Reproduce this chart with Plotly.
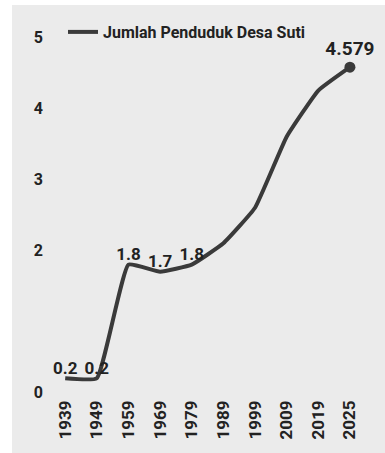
import plotly.graph_objects as go

# Population of Desa Suti (thousands of people)
years = ["1939", "1949", "1959", "1969", "1979", "1989", "1999", "2009", "2019", "2025"]
population = [0.2, 0.2, 1.8, 1.7, 1.8, 2.1, 2.6, 3.6, 4.25, 4.579]
labeled_years = ["1939", "1949", "1959", "1969", "1979", "2025"]
y_tick_values = [0, 2, 3, 4, 5]
y_tick_labels = ["0", "2", "3", "4", "5"]
series_name = "Jumlah Penduduk Desa Suti"

FONT = "Roboto, Lato, sans-serif"
INK = "#222222"
LINE = "#3a3a3a"
PANEL = "#ebebeb"

labels = [str(v) if y in labeled_years else "" for y, v in zip(years, population)]

fig = go.Figure()

fig.add_trace(go.Scatter(
    x=years, y=population,
    mode="lines+text",
    name=series_name,
    line=dict(color=LINE, width=4, shape="spline", smoothing=0.35),
    text=labels[:-1] + [""],
    textposition="top center",
    textfont=dict(family=FONT, size=17, color=INK, weight="bold"),
    cliponaxis=False,
))

# end point dot with its value
fig.add_trace(go.Scatter(
    x=[years[-1]], y=[population[-1]],
    mode="markers+text",
    marker=dict(color=LINE, size=11),
    text=[labels[-1]],
    textposition="top center",
    textfont=dict(family=FONT, size=19, color=INK, weight="bold"),
    showlegend=False,
    cliponaxis=False,
))

# margins of the plot area in pixels
L, R, T, B = 49, 12, 16, 57
W, H = 385, 453
pw, ph = W - L - R, H - T - B

def px_to_paper_x(px):
    return (px - L) / pw

def px_to_paper_y(py):
    return (H - B - py) / ph

# grey panel behind the chart, leaving a thin white border on the left and top
fig.add_shape(
    type="rect", xref="paper", yref="paper", layer="below",
    x0=px_to_paper_x(12), x1=px_to_paper_x(W + 2),
    y0=px_to_paper_y(H + 2), y1=px_to_paper_y(5),
    fillcolor=PANEL, line=dict(width=0),
)

fig.update_layout(
    width=W, height=H,
    margin=dict(l=L, r=R, t=T, b=B),
    paper_bgcolor="white",
    plot_bgcolor="rgba(0,0,0,0)",
    font=dict(family=FONT, color=INK),
    showlegend=True,
    legend=dict(
        x=px_to_paper_x(63), y=px_to_paper_y(32),
        xanchor="left", yanchor="middle",
        bgcolor="rgba(0,0,0,0)",
        font=dict(family=FONT, size=16, color=INK, weight="bold"),
        itemwidth=30,
    ),
    xaxis=dict(
        type="category",
        showgrid=False, zeroline=False, showline=False,
        ticks="", tickangle=-90,
        tickfont=dict(family=FONT, size=17, color=INK, weight="bold"),
    ),
    yaxis=dict(
        range=[-0.05, 5.3],
        tickvals=y_tick_values, ticktext=y_tick_labels,
        showgrid=False, zeroline=False, showline=False,
        ticks="", ticklabelstandoff=5,
        tickfont=dict(family=FONT, size=16, color=INK, weight="bold"),
    ),
)

fig.write_html("out.html")
